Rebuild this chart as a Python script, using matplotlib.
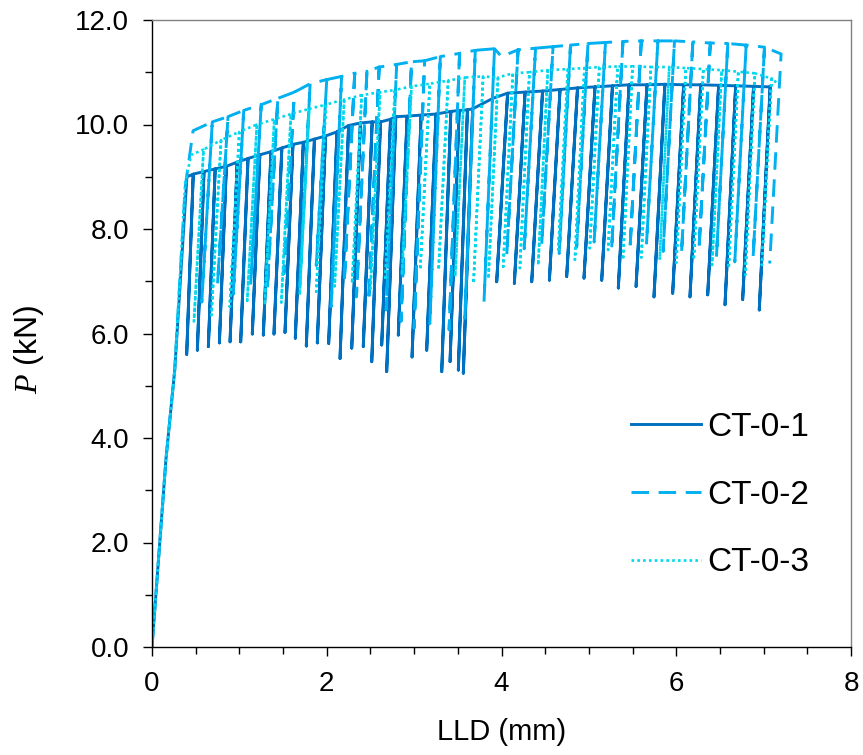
import matplotlib
matplotlib.use("Agg")
import matplotlib.pyplot as plt
from matplotlib.ticker import MultipleLocator, FuncFormatter

plt.rcParams['font.family'] = ['Liberation Sans', 'DejaVu Sans']
plt.rcParams['mathtext.fontset'] = 'custom'
plt.rcParams['mathtext.it'] = 'Liberation Serif:italic'
plt.rcParams['mathtext.rm'] = 'Liberation Sans'

# ---------------- data ----------------
labels = ["CT-0-1", "CT-0-2", "CT-0-3"]

# CT-0-1
ct1_load_x = [0, 0.16, 0.26, 0.40]
ct1_load_p = [0, 3.6, 5.3, 9.0]
ct1_peak_x = [0.472, 0.595, 0.723, 0.851, 0.975, 1.099, 1.234, 1.362, 1.486, 1.613, 1.732, 1.859, 1.986, 2.117,
              2.250, 2.385, 2.520, 2.615, 2.730, 2.790, 2.920, 3.080, 3.250, 3.420, 3.515, 3.610, 3.670,
              4.070, 4.270, 4.470, 4.670, 4.870, 5.070, 5.270, 5.460, 5.665, 5.870, 6.085, 6.280, 6.485, 6.680, 6.885, 7.075]
ct1_peak_p = [9.05, 9.10, 9.15, 9.20, 9.28, 9.35, 9.42, 9.48, 9.55, 9.62, 9.66, 9.72, 9.78, 9.86,
              9.98, 10.03, 10.05, 10.05, 10.10, 10.15, 10.16, 10.18, 10.20, 10.25, 10.27, 10.28, 10.30,
              10.60, 10.62, 10.64, 10.67, 10.70, 10.72, 10.74, 10.76, 10.76, 10.77, 10.76, 10.76, 10.75, 10.74, 10.73, 10.72]
ct1_trough_x = [0.397, 0.519, 0.645, 0.771, 0.893, 1.015, 1.148, 1.274, 1.396, 1.522, 1.640, 1.766, 1.892, 2.022,
                2.152, 2.286, 2.418, 2.515, 2.629, 2.686, 2.819, 2.976, 3.144, 3.316, 3.411, 3.506, 3.563,
                3.945, 4.147, 4.346, 4.548, 4.746, 4.944, 5.147, 5.337, 5.540, 5.745, 5.959, 6.157, 6.360, 6.558, 6.760, 6.950]
ct1_trough_p = [5.60, 5.68, 5.75, 5.82, 5.84, 5.84, 5.99, 5.97, 5.99, 6.02, 5.91, 5.76, 5.82, 5.81,
                5.52, 5.72, 5.75, 5.46, 5.78, 5.27, 5.97, 5.55, 5.68, 5.27, 5.46, 5.30, 5.24,
                6.99, 6.96, 6.99, 7.02, 7.09, 7.06, 7.02, 6.87, 6.90, 6.70, 6.77, 6.70, 6.74, 6.55, 6.65, 6.45]
ct1_env_x = [3.90]
ct1_env_p = [10.50]

# CT-0-2
ct2_load_x = [0, 0.16, 0.26, 0.38, 0.43, 0.47]
ct2_load_p = [0, 3.6, 5.3, 8.8, 9.4, 9.88]
ct2_peak_x = [0.69, 0.87, 1.05, 1.25, 1.44, 1.63, 1.81, 2.00,
              2.17, 2.32, 2.46, 2.60, 2.80, 2.97, 3.12, 3.30, 3.52, 3.70, 3.92,
              4.19, 4.39, 4.59, 4.79, 4.99, 5.19, 5.39, 5.60, 5.79, 5.98, 6.19, 6.39, 6.59, 6.80, 7.01, 7.20]
ct2_peak_p = [10.05, 10.15, 10.27, 10.38, 10.50, 10.62, 10.78, 10.86,
              10.92, 10.98, 11.02, 11.10, 11.15, 11.20, 11.22, 11.30, 11.36, 11.42, 11.45,
              11.43, 11.46, 11.49, 11.52, 11.55, 11.57, 11.59, 11.60, 11.60, 11.60, 11.58, 11.56, 11.55, 11.52, 11.48, 11.35]
ct2_trough_x = [0.57, 0.75, 0.93, 1.13, 1.32, 1.51, 1.69, 1.88,
                2.05, 2.20, 2.34, 2.48, 2.68, 2.85, 3.00, 3.18, 3.40, 3.58, 3.80,
                4.06, 4.26, 4.46, 4.66, 4.86, 5.06, 5.26, 5.47, 5.66, 5.85, 6.06, 6.26, 6.46, 6.67, 6.88, 7.07]
ct2_trough_p = [6.60, 6.95, 6.75, 6.96, 6.85, 7.15, 6.90, 7.30,
                6.51, 6.96, 6.70, 6.62, 6.45, 6.23, 6.10, 6.19, 6.07, 6.29, 6.61,
                7.50, 7.62, 7.70, 7.53, 7.65, 7.75, 7.60, 7.60, 7.73, 7.57, 7.53, 7.60, 7.47, 7.37, 7.47, 7.34]
ct2_env_x = [4.00]
ct2_env_p = [11.30]

# CT-0-3
ct3_load_x = [0, 0.16, 0.26, 0.38, 0.45]
ct3_load_p = [0, 3.6, 5.3, 8.9, 9.42]
ct3_peak_x = [0.59, 0.79, 1.00, 1.20, 1.40, 1.59, 1.80, 1.99, 2.20, 2.40, 2.61, 2.78, 2.97, 3.18, 3.39, 3.58, 3.79,
              3.96, 4.13, 4.32, 4.53, 4.76, 4.95, 5.12, 5.33, 5.50, 5.71, 5.92, 6.11, 6.31, 6.52, 6.71, 6.90, 7.09]
ct3_peak_p = [9.52, 9.70, 9.86, 10.00, 10.10, 10.20, 10.30, 10.38, 10.48, 10.56, 10.62, 10.66, 10.73, 10.78, 10.84,
              10.90, 10.92, 10.90, 10.98, 11.00, 11.04, 11.06, 11.08, 11.10, 11.11, 11.11, 11.10, 11.10, 11.08, 11.06,
              11.04, 11.01, 10.98, 10.88]
ct3_trough_x = [0.48, 0.68, 0.89, 1.09, 1.29, 1.48, 1.69, 1.88, 2.09, 2.29, 2.50, 2.67, 2.86, 3.07, 3.28, 3.47, 3.68,
                3.85, 4.02, 4.21, 4.42, 4.65, 4.84, 5.01, 5.22, 5.39, 5.60, 5.81, 6.00, 6.20, 6.41, 6.60, 6.79, 6.98]
ct3_trough_p = [6.23, 6.35, 6.51, 6.63, 6.55, 6.59, 6.74, 6.80, 6.90, 6.96, 6.86, 7.02, 7.12, 7.22, 7.22, 7.09, 6.96,
                7.05, 7.28, 7.25, 7.31, 7.60, 7.41, 7.63, 7.60, 7.41, 7.45, 7.41, 7.35, 7.41, 7.31, 7.25, 7.12, 7.31]
ct3_env_x = [7.15]
ct3_env_p = [10.80]

colors = ["#0070C0", "#00B0F0", "#00D8EE"]


def build_path(load_x, load_p, pk_x, pk_p, tr_x, tr_p, env_x, env_p, return_last=True):
    xs = list(load_x)
    ps = list(load_p)
    events = [(x, 0, i) for i, x in enumerate(pk_x)] + [(x, 1, i) for i, x in enumerate(env_x)]
    events.sort()
    n = len(pk_x)
    for x, kind, i in events:
        if kind == 1:
            xs.append(env_x[i]); ps.append(env_p[i])
        else:
            xs += [pk_x[i], tr_x[i]]
            ps += [pk_p[i], tr_p[i]]
            if i < n - 1 or return_last:
                xs.append(pk_x[i]); ps.append(pk_p[i])
    return xs, ps


fig = plt.figure(figsize=(8.63, 7.55), dpi=100)
ax = fig.add_axes([152 / 863, 108 / 755, 699 / 863, 627 / 755])

x1, p1 = build_path(ct1_load_x, ct1_load_p, ct1_peak_x, ct1_peak_p, ct1_trough_x, ct1_trough_p, ct1_env_x, ct1_env_p)
x2, p2 = build_path(ct2_load_x, ct2_load_p, ct2_peak_x, ct2_peak_p, ct2_trough_x, ct2_trough_p, ct2_env_x, ct2_env_p,
                    return_last=False)
x3, p3 = build_path(ct3_load_x, ct3_load_p, ct3_peak_x, ct3_peak_p, ct3_trough_x, ct3_trough_p, ct3_env_x, ct3_env_p)

ax.plot(x1, p1, color=colors[0], lw=2.1, ls='-', label=labels[0], solid_joinstyle='round')
ax.plot(x2, p2, color=colors[1], lw=2.1, ls=(0, (6, 3.3)), label=labels[1])
ax.plot(x3, p3, color=colors[2], lw=1.9, ls=(0, (1.0, 1.2)), label=labels[2])

ax.set_xlim(0, 8)
ax.set_ylim(0, 12)
ax.xaxis.set_major_locator(MultipleLocator(2))
ax.xaxis.set_minor_locator(MultipleLocator(0.5))
ax.yaxis.set_major_locator(MultipleLocator(2))
ax.yaxis.set_minor_locator(MultipleLocator(1))
ax.xaxis.set_major_formatter(FuncFormatter(lambda v, p: f"{v:.0f}"))
ax.yaxis.set_major_formatter(FuncFormatter(lambda v, p: f"{v:.1f}"))

ax.tick_params(axis='both', which='major', direction='out', length=6.5, width=1.0, labelsize=20, color='black')
ax.tick_params(axis='both', which='minor', direction='out', length=5, width=1.0, color='black')
ax.tick_params(axis='y', which='major', pad=10)
ax.tick_params(axis='x', which='major', pad=11)
ax.tick_params(top=False, right=False, which='both')

for s in ['left', 'bottom']:
    ax.spines[s].set_color('black')
    ax.spines[s].set_linewidth(1.0)
for s in ['top', 'right']:
    ax.spines[s].set_color('#808080')
    ax.spines[s].set_linewidth(1.0)

ax.set_xlabel('LLD (mm)', fontsize=21, labelpad=15)
ax.set_ylabel(r'$\mathit{P}$ (kN)', fontsize=23)
ax.yaxis.set_label_coords(-0.152, 0.474)

leg = ax.legend(loc='upper left', bbox_to_anchor=(631 / 863, 1 - 412 / 755), bbox_transform=fig.transFigure,
                frameon=False, fontsize=24, handlelength=2.1, handletextpad=0.2, labelspacing=1.1,
                borderpad=0, borderaxespad=0)

fig.savefig('out.png', dpi=100)
